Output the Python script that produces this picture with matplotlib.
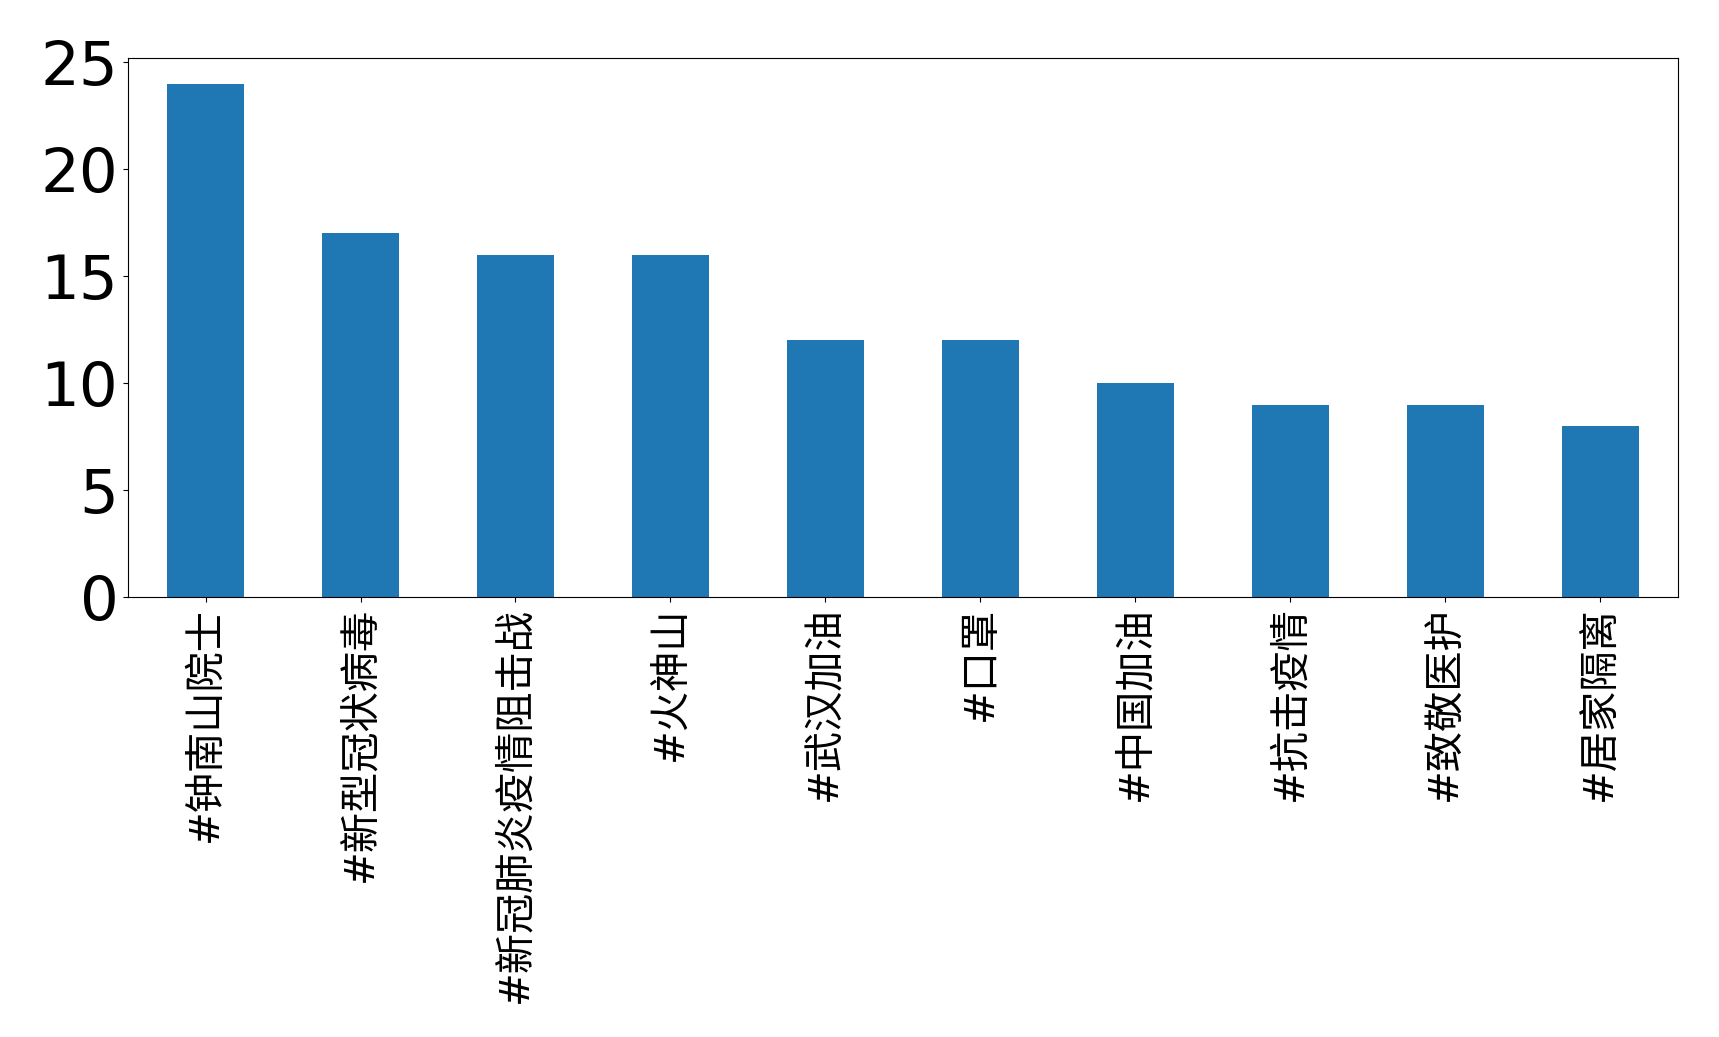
import matplotlib
matplotlib.use("Agg")
import matplotlib.pyplot as plt
import pandas as pd

categories = ["#钟南山院士", "#新型冠状病毒", "#新冠肺炎疫情阻击战", "#火神山",
              "#武汉加油", "#口罩", "#中国加油", "#抗击疫情", "#致敬医护", "#居家隔离"]
counts = [24, 17, 16, 16, 12, 12, 10, 9, 9, 8]

s = pd.Series(counts, index=categories)

fig = plt.figure(figsize=(17.19, 10.37), dpi=100)
ax = fig.add_axes([0.0745, 0.4243, 0.976 - 0.0745, 0.944 - 0.4243])
s.plot(kind="bar", ax=ax, color="#1f77b4", width=0.5)
ax.set_yticks([0, 5, 10, 15, 20, 25])
ax.tick_params(axis="y", labelsize=44)
for lab in ax.get_yticklabels():
    lab.set_family("DejaVu Sans")
for lab in ax.get_xticklabels():
    lab.set_family(["DejaVu Sans", "Noto Sans CJK SC"])
    lab.set_fontsize(29)
    lab.set_rotation(90)
fig.savefig("out.png", dpi=100)
